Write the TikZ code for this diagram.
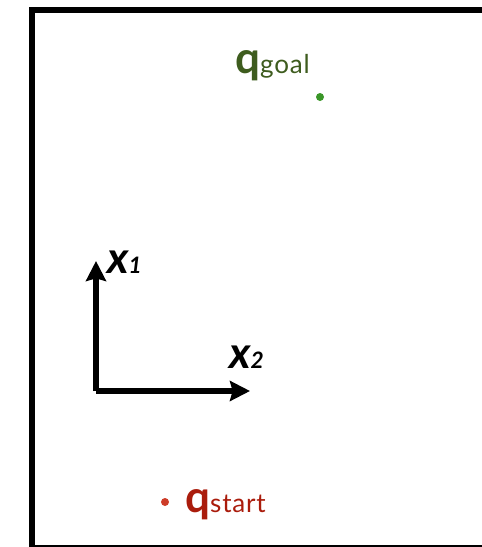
\documentclass[tikz,border=0pt]{standalone}
\usepackage{fontspec}
\setmainfont{Lato}
\usepackage{tikz}
\usetikzlibrary{arrows.meta}

\definecolor{goalgreen}{RGB}{62,92,30}
\definecolor{goaldot}{RGB}{58,150,40}
\definecolor{startred}{RGB}{170,28,12}
\definecolor{startdot}{RGB}{205,60,40}

\newcommand{\bigletter}{\fontsize{33}{33}\selectfont\bfseries}
\newcommand{\subletter}{\fontsize{17}{17}\selectfont}
\newcommand{\wordletter}{\fontsize{19.5}{19.5}\selectfont\addfontfeature{LetterSpace=3}}

\begin{document}
\begin{tikzpicture}[x=0.75pt, y=-0.75pt,
    axis/.style={line width=4pt, -{Stealth[length=15pt, width=15pt, inset=2pt]}},
    lbl/.style={inner sep=0pt, anchor=base west}]
  \useasboundingbox (0,0) rectangle (482,547);

  % Frame (runs off the right and bottom edges)
  \begin{scope}
    \clip (0,0) rectangle (482,547);
    \draw[line width=4.5pt] (31.5,10) rectangle (520,548);
  \end{scope}

  % Goal
  \node[circle, fill=goaldot, inner sep=0pt, minimum size=6pt] (goal) at (320,97) {};
  \node[lbl, text=goalgreen] (goallbl) at (235,73) {{\bigletter q}{\wordletter goal}};

  % Start
  \node[circle, fill=startdot, inner sep=0pt, minimum size=6pt] (start) at (165,502) {};
  \node[lbl, text=startred] (startlbl) at (185,512) {{\bigletter q}{\wordletter start}};

  % Axes
  \coordinate (origin) at (96,391);
  \coordinate (x1tip) at (96,261);
  \coordinate (x2tip) at (250,391);
  \draw[axis] (origin) -- (x1tip);
  \draw[axis] (origin) -- (x2tip);
  \node[lbl] (x1lbl) at (107,273) {{\bigletter\itshape x}{\subletter\bfseries\itshape 1}};
  \node[lbl] (x2lbl) at (229,368) {{\bigletter\itshape x}{\subletter\bfseries\itshape 2}};
\end{tikzpicture}
\end{document}
